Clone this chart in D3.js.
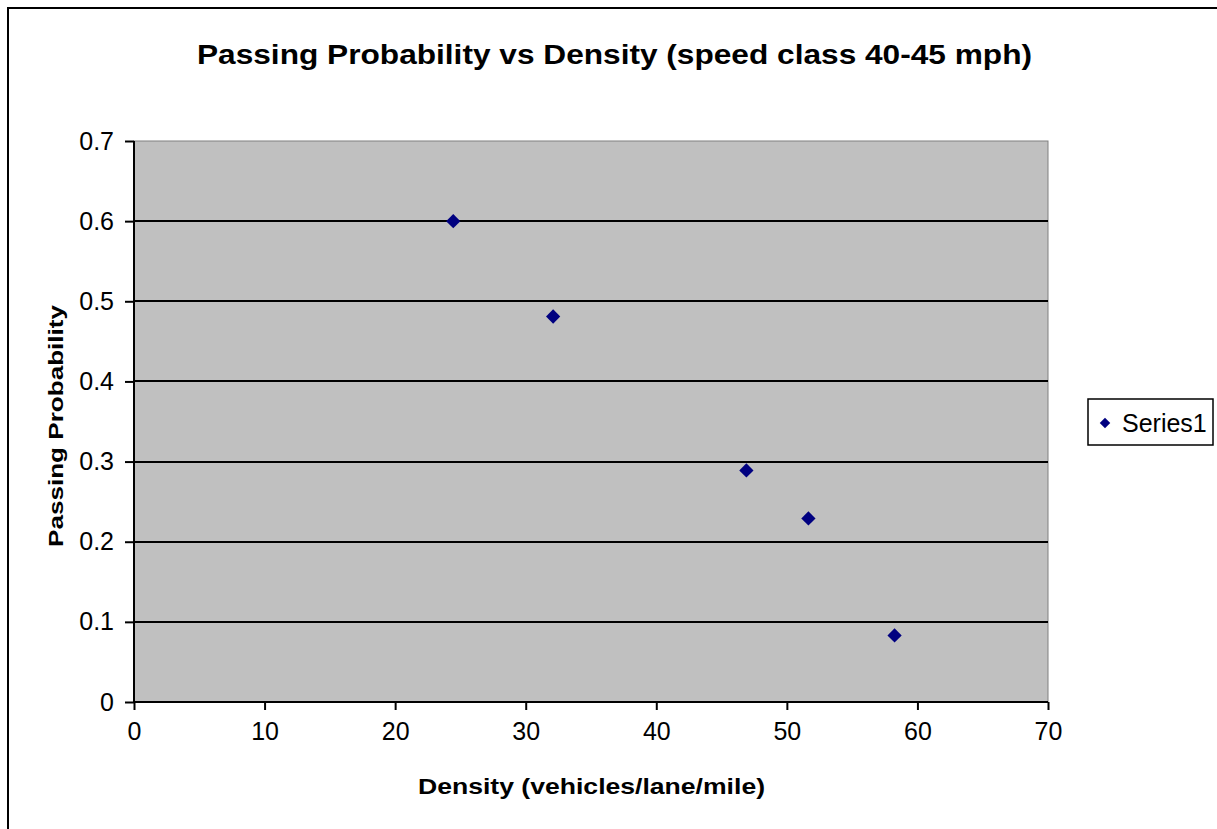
<!DOCTYPE html>
<html>
<head>
<meta charset="utf-8">
<script src="https://cdn.jsdelivr.net/npm/d3@7"></script>
<style>
  html, body { margin: 0; padding: 0; background: #fff; }
  svg { display: block; font-family: "Liberation Sans", Arial, sans-serif; }
</style>
</head>
<body>
<svg id="chart" width="1217" height="829"></svg>
<script>
// Passing probability measured at each traffic density (speed class 40-45 mph)
const density = [24.45, 32.1, 46.9, 51.65, 58.25];
const passingProbability = [0.6, 0.481, 0.289, 0.229, 0.083];
const xTicks = [0, 10, 20, 30, 40, 50, 60, 70];
const yTicks = [0, 0.1, 0.2, 0.3, 0.4, 0.5, 0.6, 0.7];
const seriesName = "Series1";

const svg = d3.select("#chart");
const W = 1217, H = 829;
const plot = { left: 134, top: 141, right: 1048, bottom: 702 };
const FONT = "'Liberation Sans', Arial, sans-serif";

// outer chart frame
svg.append("rect")
  .attr("x", 8).attr("y", 8)
  .attr("width", W + 20).attr("height", H + 20)
  .attr("fill", "#fff").attr("stroke", "#000").attr("stroke-width", 2);

const x = d3.scaleLinear().domain([0, 70]).range([plot.left, plot.right]);
const y = d3.scaleLinear().domain([0, 0.7]).range([plot.bottom, plot.top]);

// plot background
svg.append("rect")
  .attr("x", plot.left).attr("y", plot.top)
  .attr("width", plot.right - plot.left).attr("height", plot.bottom - plot.top)
  .attr("fill", "#c0c0c0").attr("stroke", "#808080").attr("stroke-width", 1);

// horizontal gridlines
svg.append("g").selectAll("line")
  .data(yTicks.filter(v => v > 0 && v < 0.7))
  .join("line")
  .attr("x1", plot.left).attr("x2", plot.right)
  .attr("y1", d => Math.round(y(d))).attr("y2", d => Math.round(y(d)))
  .attr("stroke", "#000").attr("stroke-width", 2);

// axes
const xAxis = svg.append("g")
  .attr("transform", `translate(0,${plot.bottom})`)
  .call(d3.axisBottom(x).tickValues(xTicks).tickSize(8).tickPadding(12).tickFormat(d3.format("d")));
const yAxis = svg.append("g")
  .attr("transform", `translate(${plot.left},0)`)
  .call(d3.axisLeft(y).tickValues(yTicks).tickSize(9).tickPadding(11).tickFormat(d => d === 0 ? "0" : d3.format(".1f")(d)));

[xAxis, yAxis].forEach(g => {
  g.select(".domain").attr("stroke", "#000").attr("stroke-width", 2);
  g.selectAll(".tick line").attr("stroke", "#000").attr("stroke-width", 2);
  g.selectAll(".tick text").attr("fill", "#000")
    .style("font-family", FONT).style("font-size", "25px");
});
xAxis.select(".domain").attr("d", `M${plot.left},0H${plot.right}`);
yAxis.select(".domain").attr("d", `M0,${plot.top}V${plot.bottom}`);

// data markers
const diamond = d3.symbol().type(d3.symbolDiamond2).size(130);
svg.append("g").selectAll("path")
  .data(density.map((d, i) => [d, passingProbability[i]]))
  .join("path")
  .attr("d", diamond)
  .attr("transform", d => `translate(${x(d[0])},${y(d[1])})`)
  .attr("fill", "#000080");

// title
svg.append("text")
  .attr("x", 614.5).attr("y", 64)
  .attr("text-anchor", "middle")
  .attr("textLength", 835).attr("lengthAdjust", "spacingAndGlyphs")
  .style("font-size", "28px").style("font-weight", "bold")
  .text("Passing Probability vs Density (speed class 40-45 mph)");

// axis titles
svg.append("text")
  .attr("x", 591.5).attr("y", 794)
  .attr("text-anchor", "middle")
  .attr("textLength", 347).attr("lengthAdjust", "spacingAndGlyphs")
  .style("font-size", "22px").style("font-weight", "bold")
  .text("Density (vehicles/lane/mile)");

svg.append("text")
  .attr("transform", `translate(63,426) rotate(-90)`)
  .attr("text-anchor", "middle")
  .attr("textLength", 242).attr("lengthAdjust", "spacingAndGlyphs")
  .style("font-size", "21px").style("font-weight", "bold")
  .text("Passing Probability");

// legend
const legend = svg.append("g");
legend.append("rect")
  .attr("x", 1088).attr("y", 399).attr("width", 125).attr("height", 46)
  .attr("fill", "#fff").attr("stroke", "#000").attr("stroke-width", 1.5);
legend.append("path")
  .attr("d", d3.symbol().type(d3.symbolDiamond2).size(70))
  .attr("transform", "translate(1105,423)")
  .attr("fill", "#000080");
legend.append("text")
  .attr("x", 1122).attr("y", 432)
  .style("font-size", "25px")
  .text(seriesName);
</script>
</body>
</html>
